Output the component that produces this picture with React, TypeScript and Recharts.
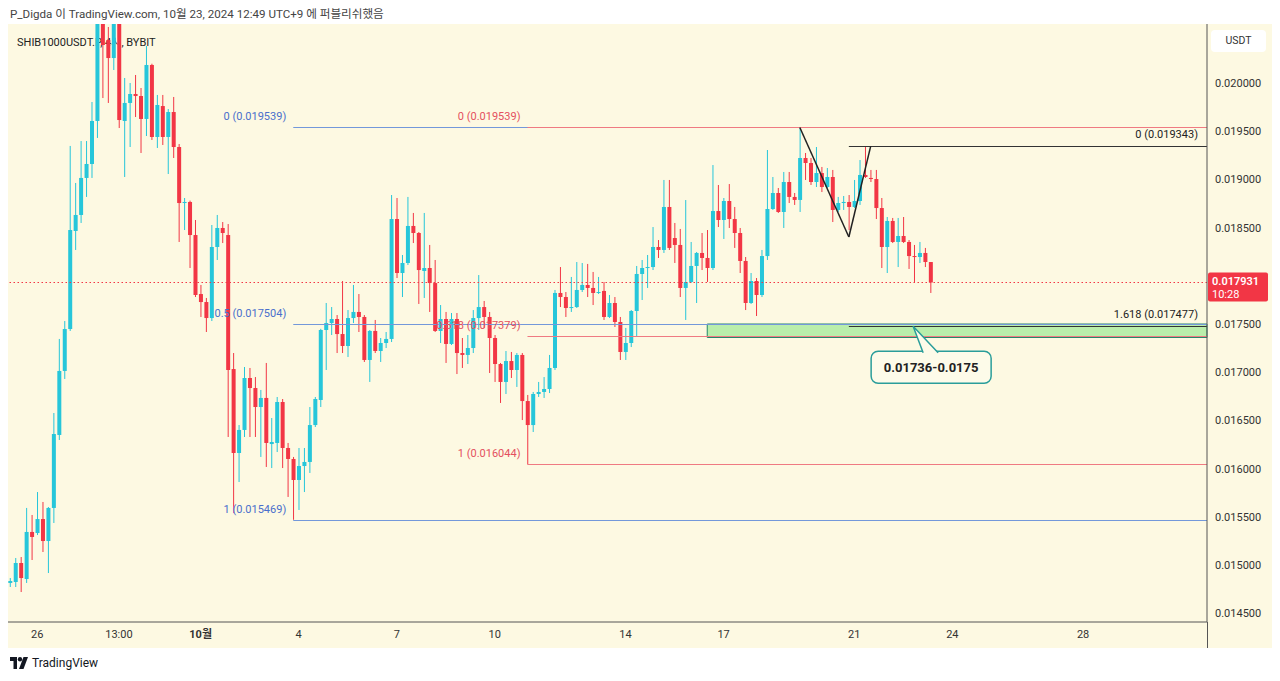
import React from "react";
import {
  ComposedChart,
  Bar,
  XAxis,
  YAxis,
  ReferenceLine,
  ReferenceArea,
  ReferenceDot,
} from "recharts";

// 4h candles, SHIB1000USDT.P, left to right
const OPEN = [
  0.014814, 0.014824, 0.015021, 0.014855, 0.015343, 0.015332, 0.015477, 0.015249, 0.015592, 0.016349,
  0.017013, 0.017448, 0.018465, 0.018631, 0.019015, 0.01916, 0.019606, 0.020757, 0.020446, 0.020259,
  0.020705, 0.019606, 0.019793, 0.019886, 0.019865, 0.019627, 0.020187, 0.01944, 0.019761, 0.01944,
  0.019699, 0.019336, 0.018755, 0.018766, 0.018423, 0.017811, 0.017728, 0.017562, 0.018299, 0.018496,
  0.018423, 0.017033, 0.016162, 0.016401, 0.01694, 0.016836, 0.016639, 0.016733, 0.016255, 0.016266,
  0.016691, 0.016214, 0.0161, 0.015882, 0.016027, 0.016069, 0.016452, 0.016712, 0.017438, 0.01751,
  0.017552, 0.017396, 0.017272, 0.017562, 0.017625, 0.017573, 0.017127, 0.017428, 0.01722, 0.017303,
  0.017345, 0.018589, 0.018029, 0.018133, 0.018517, 0.018444, 0.01805, 0.018081, 0.017925, 0.017428,
  0.017552, 0.017293, 0.017552, 0.017199, 0.017179, 0.017251, 0.017562, 0.017676, 0.017573, 0.017355,
  0.017085, 0.016899, 0.017116, 0.017023, 0.017179, 0.016701, 0.016452, 0.016774, 0.016795, 0.016826,
  0.017044, 0.017822, 0.01778, 0.017666, 0.017676, 0.017853, 0.017905, 0.017874, 0.017822, 0.017843,
  0.017573, 0.017718, 0.017521, 0.01721, 0.017303, 0.017635, 0.018019, 0.018081, 0.018091, 0.018299,
  0.018268, 0.018714, 0.018392, 0.01832, 0.017874, 0.017936, 0.018102, 0.018237, 0.018185, 0.018081,
  0.018672, 0.018579, 0.018776, 0.018589, 0.018444, 0.018154, 0.017718, 0.017946, 0.017801, 0.018205,
  0.018693, 0.018859, 0.018662, 0.018973, 0.018818, 0.018787, 0.019222, 0.01917, 0.018973, 0.019066,
  0.018921, 0.019025, 0.018683, 0.018755, 0.018766, 0.018714, 0.018776, 0.019046, 0.019015, 0.019004,
  0.018703, 0.018299, 0.018569, 0.018351, 0.018413, 0.018351, 0.018205, 0.018195, 0.018237, 0.018143,
];

const HIGH = [
  0.014865, 0.015073, 0.015083, 0.015592, 0.015519, 0.015757, 0.015654, 0.015602, 0.016577, 0.017345,
  0.017531, 0.019347, 0.018963, 0.019398, 0.019398, 0.019803, 0.020809, 0.020861, 0.020581, 0.020809,
  0.020809, 0.020052, 0.02, 0.020083, 0.019948, 0.020384, 0.0202, 0.019876, 0.019876, 0.01973,
  0.019855, 0.019367, 0.018807, 0.01878, 0.018579, 0.017905, 0.01777, 0.018527, 0.018631, 0.018558,
  0.018537, 0.017199, 0.016452, 0.017054, 0.017044, 0.01695, 0.016816, 0.017096, 0.016525, 0.016743,
  0.016722, 0.016266, 0.016121, 0.016214, 0.016214, 0.016639, 0.016743, 0.01745, 0.017718, 0.017676,
  0.017593, 0.017946, 0.017645, 0.017905, 0.017811, 0.017593, 0.017438, 0.017542, 0.017355, 0.017417,
  0.018838, 0.018807, 0.018216, 0.018818, 0.018652, 0.018454, 0.018652, 0.01832, 0.018164, 0.017697,
  0.017625, 0.017614, 0.017614, 0.017355, 0.017386, 0.017645, 0.018008, 0.017739, 0.017625, 0.017386,
  0.017096, 0.01722, 0.01721, 0.017199, 0.017199, 0.016764, 0.016795, 0.016899, 0.01695, 0.017179,
  0.017853, 0.018091, 0.017832, 0.017988, 0.018143, 0.018133, 0.018123, 0.01804, 0.017988, 0.017936,
  0.017801, 0.01778, 0.017573, 0.017459, 0.017645, 0.018102, 0.018164, 0.018216, 0.018506, 0.018371,
  0.018994, 0.018994, 0.018548, 0.018486, 0.018786, 0.018351, 0.018247, 0.018444, 0.018475, 0.019149,
  0.018942, 0.018807, 0.018952, 0.018714, 0.018496, 0.018195, 0.018029, 0.017977, 0.018268, 0.019305,
  0.019025, 0.018911, 0.019077, 0.019077, 0.018859, 0.019539, 0.019274, 0.019222, 0.019336, 0.019129,
  0.019118, 0.019098, 0.018818, 0.018828, 0.018838, 0.018994, 0.019201, 0.019343, 0.019098, 0.019098,
  0.018807, 0.01861, 0.0186, 0.0186, 0.01861, 0.018371, 0.01832, 0.018351, 0.018289, 0.018143,
];

const LOW = [
  0.014772, 0.014772, 0.01472, 0.014814, 0.015052, 0.015311, 0.015135, 0.014917, 0.015436, 0.016297,
  0.01693, 0.017428, 0.018268, 0.018548, 0.018818, 0.019015, 0.01943, 0.019844, 0.019793, 0.020135,
  0.019533, 0.019025, 0.019336, 0.019647, 0.019274, 0.01945, 0.019409, 0.019326, 0.019357, 0.019056,
  0.019222, 0.018351, 0.018475, 0.018081, 0.01778, 0.017573, 0.017417, 0.017531, 0.018164, 0.01834,
  0.016328, 0.015539, 0.015861, 0.016328, 0.016328, 0.016328, 0.016121, 0.016017, 0.016006, 0.016172,
  0.016006, 0.015706, 0.015469, 0.015571, 0.015757, 0.015955, 0.016432, 0.016639, 0.017023, 0.017386,
  0.017199, 0.017199, 0.017158, 0.01751, 0.017417, 0.017106, 0.016899, 0.017199, 0.017106, 0.017251,
  0.017313, 0.017977, 0.01778, 0.018112, 0.01834, 0.017708, 0.01777, 0.017625, 0.017417, 0.017303,
  0.017096, 0.017282, 0.016981, 0.017044, 0.017085, 0.017199, 0.017438, 0.017459, 0.016992, 0.016899,
  0.016681, 0.016774, 0.01694, 0.016847, 0.016504, 0.016044, 0.01638, 0.016743, 0.016733, 0.016784,
  0.017023, 0.017676, 0.017573, 0.017625, 0.017666, 0.017832, 0.01778, 0.017697, 0.017811, 0.017542,
  0.017562, 0.017469, 0.017127, 0.017127, 0.017261, 0.017365, 0.017749, 0.017874, 0.01806, 0.018185,
  0.018237, 0.018268, 0.018133, 0.01778, 0.017542, 0.017925, 0.017718, 0.01806, 0.017936, 0.01806,
  0.018506, 0.018382, 0.018496, 0.018289, 0.018029, 0.017645, 0.017708, 0.017583, 0.01778, 0.018164,
  0.018683, 0.018652, 0.018496, 0.018755, 0.018735, 0.018662, 0.018994, 0.018942, 0.018921, 0.018869,
  0.018911, 0.018558, 0.018662, 0.018683, 0.018475, 0.018703, 0.018735, 0.019015, 0.018973, 0.018589,
  0.018081, 0.018029, 0.01834, 0.018091, 0.01834, 0.018071, 0.017936, 0.018133, 0.018091, 0.017822,
];

const CLOSE = [
  0.014834, 0.015021, 0.014865, 0.015343, 0.015291, 0.015477, 0.015249, 0.015592, 0.016359, 0.017013,
  0.017448, 0.018475, 0.018631, 0.019015, 0.01916, 0.019606, 0.020705, 0.020394, 0.020259, 0.020705,
  0.019616, 0.019793, 0.019886, 0.019865, 0.019627, 0.020187, 0.01944, 0.019772, 0.01944, 0.019699,
  0.019336, 0.018755, 0.018766, 0.018423, 0.017801, 0.017728, 0.017562, 0.018299, 0.018496, 0.018444,
  0.017023, 0.016162, 0.016401, 0.01694, 0.016836, 0.016639, 0.016733, 0.016266, 0.016276, 0.016691,
  0.016214, 0.0161, 0.015882, 0.016027, 0.016069, 0.016452, 0.016722, 0.017438, 0.01751, 0.017552,
  0.017396, 0.017272, 0.017562, 0.017625, 0.017573, 0.017127, 0.017428, 0.01722, 0.017303, 0.017345,
  0.018589, 0.018029, 0.018133, 0.018517, 0.018444, 0.01806, 0.018081, 0.017925, 0.017428, 0.017552,
  0.017293, 0.017552, 0.017199, 0.017179, 0.017251, 0.017562, 0.017676, 0.017573, 0.017355, 0.017085,
  0.016899, 0.017116, 0.017023, 0.017179, 0.016701, 0.016452, 0.016774, 0.016795, 0.016826, 0.017044,
  0.017822, 0.01778, 0.017666, 0.017676, 0.017853, 0.017905, 0.017874, 0.017822, 0.017832, 0.017573,
  0.017718, 0.017521, 0.01721, 0.017303, 0.017635, 0.018019, 0.018081, 0.018091, 0.018299, 0.018268,
  0.018714, 0.018289, 0.01832, 0.017874, 0.017936, 0.018102, 0.018237, 0.018185, 0.018081, 0.018672,
  0.018579, 0.018776, 0.018589, 0.018444, 0.018154, 0.017718, 0.017946, 0.017801, 0.018205, 0.018693,
  0.018859, 0.018662, 0.018973, 0.018818, 0.018787, 0.019222, 0.01917, 0.018973, 0.019066, 0.018921,
  0.019025, 0.018683, 0.018755, 0.018766, 0.018714, 0.018776, 0.019046, 0.019025, 0.019004, 0.018703,
  0.018299, 0.018569, 0.018351, 0.018413, 0.018351, 0.018205, 0.018195, 0.018237, 0.018143, 0.017931,
];

// time axis: candle index of each label
const TICK_POS = [5, 20, 35, 53, 71, 89, 113, 131, 155, 173, 197];
const TICK_LABELS = ["26", "13:00", "10월", "4", "7", "10", "14", "17", "21", "24", "28"];
const Y_TICKS = [
  0.0145, 0.015, 0.0155, 0.016, 0.0165, 0.017, 0.0175, 0.018, 0.0185, 0.019, 0.0195, 0.02,
];

// fib drawings: start candle + levels
const BLUE_START = 52;
const BLUE_LEVELS = ["0", "0.5", "1"];
const BLUE_PRICES = [0.019539, 0.017504, 0.015469];
const RED_START = 95;
const RED_LEVELS = ["0", "0.618", "1"];
const RED_PRICES = [0.019539, 0.017379, 0.016044];
const BLACK_START = 154;
const BLACK_LEVELS = ["0", "1.618"];
const BLACK_PRICES = [0.019343, 0.017477];

const ZIGZAG_X = [145, 154, 158];
const ZIGZAG_Y = [0.019539, 0.018403, 0.019343];

const ZONE_START = 128;
const ZONE_LOW = 0.01736;
const ZONE_HIGH = 0.0175;
const CALLOUT_X = 165.8;
const CALLOUT_TEXT = "0.01736-0.0175";
const COUNTDOWN = "10:28";

const X_DOMAIN = [-0.37, 219.75];
const Y_DOMAIN = [0.014409, 0.020612];

const UP = "#26c6da";
const DOWN = "#f23645";
const BG = "#fdf9e2";
const BLUE_TXT = "#4a6fcc";
const BLUE_LINE = "#7398da";
const RED_TXT = "#e4505e";
const RED_LINE = "#ef7a82";

const data = OPEN.map((o, i) => ({
  i,
  open: o,
  high: HIGH[i],
  low: LOW[i],
  close: CLOSE[i],
}));
const last = CLOSE[CLOSE.length - 1];

const Candle = (props: any) => {
  const { x, y, width, height, payload } = props;
  if (x == null || y == null) return null;
  const { open, close, high, low } = payload;
  const color = close >= open ? UP : DOWN;
  const top = Math.min(y, y + height);
  const h = Math.abs(height);
  const k = high > low ? h / (high - low) : 0;
  const py = (v: number) => top + (high - v) * k;
  const cx = x + width / 2;
  const bTop = py(Math.max(open, close));
  const bBot = py(Math.min(open, close));
  return (
    <g>
      <line x1={cx} x2={cx} y1={top} y2={top + h} stroke={color} strokeWidth={1} />
      <rect x={cx - 2} y={bTop} width={4} height={Math.max(1, bBot - bTop)} fill={color} />
    </g>
  );
};

// horizontal drawing lines snapped to the pixel grid
const CrispLine = (p: any) => {
  const y = Math.round(p.y1) + 0.5;
  return (
    <line
      x1={p.x1}
      x2={p.x2}
      y1={y}
      y2={y}
      stroke={p.stroke}
      strokeWidth={p.strokeWidth}
      strokeDasharray={p.strokeDasharray}
    />
  );
};

const XTick = (props: any) => {
  const { x, y, payload } = props;
  const label = TICK_LABELS[TICK_POS.indexOf(payload.value)] ?? "";
  return (
    <text
      x={x}
      y={y}
      dy="0.71em"
      textAnchor="middle"
      fontSize={11}
      fill="#333"
      fontWeight={label.includes("월") ? 700 : 400}
    >
      {label}
    </text>
  );
};

// the last-price tag sits on top of the tick it covers
const YTick = (props: any) => {
  const { x, y, payload } = props;
  if (Math.abs(payload.value - last) < 0.00012) return null;
  return (
    <text x={x} y={y} dy="0.355em" textAnchor="start" fontSize={11} fill="#333">
      {payload.value.toFixed(6)}
    </text>
  );
};

const leftLabel = (text: string, color: string) => (p: any) => {
  const vb = p.viewBox ?? p;
  return (
    <text x={vb.x - 7} y={vb.y - 7} textAnchor="end" fill={color} fontSize={11}>
      {text}
    </text>
  );
};

const rightLabel = (text: string) => (p: any) => {
  const vb = p.viewBox ?? p;
  return (
    <text x={vb.x + vb.width - 9} y={vb.y - 8} textAnchor="end" fill="#222" fontSize={11}>
      {text}
    </text>
  );
};

const priceTag = (p: any) => {
  const vb = p.viewBox ?? p;
  const x0 = vb.x + vb.width + 1;
  return (
    <g>
      <rect x={x0} y={vb.y - 10} width={60} height={29} rx={2} fill={DOWN} />
      <text x={x0 + 4} y={vb.y + 3} fill="#fff" fontSize={11} fontWeight={600}>
        {last.toFixed(6)}
      </text>
      <text x={x0 + 4} y={vb.y + 16} fill="#fff" fontSize={11}>
        {COUNTDOWN}
      </text>
    </g>
  );
};

const Callout = (p: any) => {
  const { cx, cy } = p;
  if (cx == null) return null;
  return (
    <g>
      <rect x={cx - 42} y={cy + 25} width={120} height={32} rx={7} fill="#fdfbe9" stroke="#2a9d9a" strokeWidth={1.5} />
      <path
        d={`M${cx + 10},${cy + 26.5} L${cx},${cy} L${cx + 25},${cy + 26.5}`}
        fill="#fdfbe9"
        stroke="#2a9d9a"
        strokeWidth={1.5}
      />
      <text x={cx + 18} y={cy + 46} textAnchor="middle" fontSize={13} fontWeight={700} fill="#222">
        {CALLOUT_TEXT}
      </text>
    </g>
  );
};

const fibLines = (
  start: number,
  levels: string[],
  prices: number[],
  line: string,
  txt: string,
  key: string
) =>
  prices.map((p, k) => (
    <ReferenceLine
      key={`${key}${k}`}
      segment={[
        { x: start, y: p },
        { x: X_DOMAIN[1], y: p },
      ]}
      stroke={line}
      strokeWidth={1}
      shape={CrispLine}
      label={leftLabel(`${levels[k]} (${p.toFixed(6)})`, txt)}
    />
  ));

export default function App() {
  return (
    <div
      style={{
        position: "fixed",
        left: 0,
        top: 0,
        width: 1280,
        height: 681,
        background: "#fff",
        fontFamily: "Roboto, 'Noto Sans CJK KR', sans-serif",
        overflow: "hidden",
      }}
    >
      <div style={{ position: "absolute", left: 10, top: 5, fontSize: 11.6, color: "#444" }}>
        P_Digda 이 TradingView.com, 10월 23, 2024 12:49 UTC+9 에 퍼블리쉬했음
      </div>
      <div style={{ position: "absolute", left: 8, top: 24, width: 1264, height: 624, background: BG }} />
      <div style={{ position: "absolute", left: 17, top: 33, fontSize: 11, color: "#222" }}>
        SHIB1000USDT.P, 4시, BYBIT
      </div>
      <div style={{ position: "absolute", left: 1207, top: 622, width: 1, height: 26, background: "#555" }} />
      <div style={{ position: "absolute", left: 8, top: 24 }}>
        <ComposedChart width={1264} height={624} data={data} margin={{ top: 0, right: 0, bottom: 0, left: 0 }}>
          <XAxis
            type="number"
            dataKey="i"
            domain={X_DOMAIN}
            allowDataOverflow
            ticks={TICK_POS}
            interval={0}
            tick={<XTick />}
            tickLine={false}
            axisLine={{ stroke: "#555" }}
            height={26}
          />
          <YAxis
            orientation="right"
            domain={Y_DOMAIN}
            allowDataOverflow
            ticks={Y_TICKS}
            interval={0}
            tick={<YTick />}
            tickLine={false}
            axisLine={{ stroke: "#555" }}
            width={65}
          />
          <Bar
            dataKey={(d: any) => [d.low, d.high]}
            barSize={4}
            shape={<Candle />}
            isAnimationActive={false}
          />
          {fibLines(BLUE_START, BLUE_LEVELS, BLUE_PRICES, BLUE_LINE, BLUE_TXT, "b")}
          {fibLines(RED_START, RED_LEVELS, RED_PRICES, RED_LINE, RED_TXT, "r")}
          <ReferenceArea
            x1={ZONE_START}
            x2={X_DOMAIN[1]}
            y1={ZONE_LOW}
            y2={ZONE_HIGH}
            fill="#b9eeab"
            fillOpacity={1}
            stroke="#24876c"
            strokeWidth={1}
          />
          {BLACK_PRICES.map((p, k) => (
            <ReferenceLine
              key={`k${k}`}
              segment={[
                { x: BLACK_START, y: p },
                { x: X_DOMAIN[1], y: p },
              ]}
              stroke="#333"
              strokeWidth={1}
              shape={CrispLine}
              label={rightLabel(`${BLACK_LEVELS[k]} (${p.toFixed(6)})`)}
            />
          ))}
          {ZIGZAG_X.slice(1).map((xv, k) => (
            <ReferenceLine
              key={`z${k}`}
              segment={[
                { x: ZIGZAG_X[k], y: ZIGZAG_Y[k] },
                { x: xv, y: ZIGZAG_Y[k + 1] },
              ]}
              stroke="#222"
              strokeWidth={1.5}
            />
          ))}
          <ReferenceLine
            y={last}
            stroke={DOWN}
            strokeDasharray="1.5 2.5"
            strokeWidth={1}
            shape={CrispLine}
            label={priceTag}
          />
          <ReferenceDot x={CALLOUT_X} y={BLACK_PRICES[1]} r={0} shape={<Callout />} />
        </ComposedChart>
      </div>
      <div
        style={{
          position: "absolute",
          left: 1211,
          top: 30,
          width: 55,
          height: 22,
          background: "#fff",
          borderRadius: 4,
          fontSize: 10.5,
          color: "#333",
          textAlign: "center",
          lineHeight: "22px",
        }}
      >
        USDT
      </div>
      <div
        style={{
          position: "absolute",
          left: 10,
          top: 656,
          display: "flex",
          alignItems: "center",
          gap: 4,
          fontSize: 12,
          color: "#131722",
        }}
      >
        <svg width={18} height={12} viewBox="0 0 18 12">
          <path d="M0 0h7v12H3.5V4H0z" fill="#131722" />
          <circle cx={10} cy={2.2} r={2.2} fill="#131722" />
          <path d="M13.5 0H18l-4.5 12H9z" fill="#131722" />
        </svg>
        <span>TradingView</span>
      </div>
    </div>
  );
}
